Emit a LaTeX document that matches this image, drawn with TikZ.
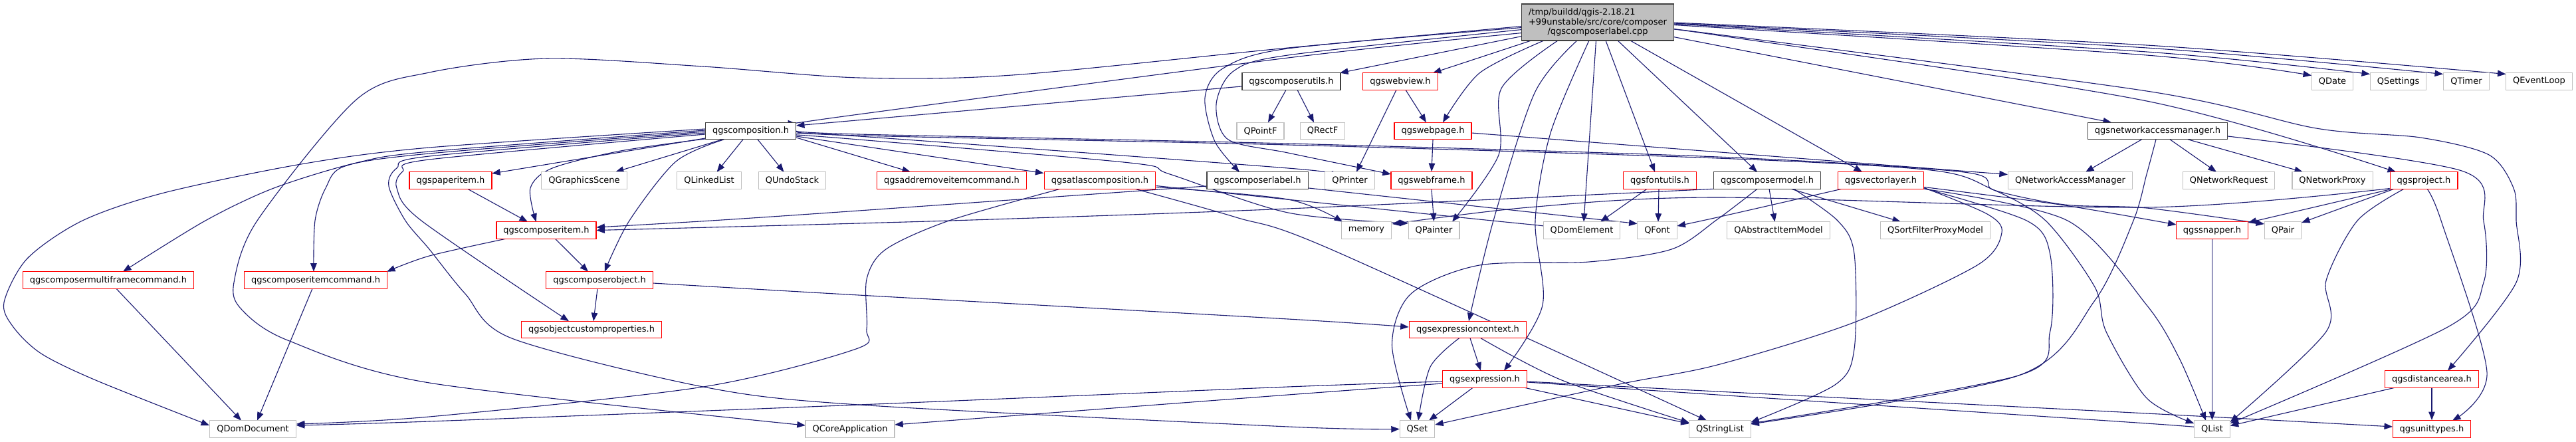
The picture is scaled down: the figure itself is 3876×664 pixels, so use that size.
\documentclass[tikz,border=0pt]{standalone}
\usepackage{fontspec}
\setmainfont{DejaVu Sans}
\usetikzlibrary{arrows.meta,calc,backgrounds}
\definecolor{edgecol}{RGB}{25,25,112}
\definecolor{nodegrey}{RGB}{191,191,191}
\definecolor{docborder}{RGB}{64,64,64}
\begin{document}
\begin{tikzpicture}[x=1pt,y=-1pt,
  conn/.style={draw=edgecol,line width=1.1pt,-{Triangle[length=12.5pt,width=9.5pt]}},
  nbase/.style={draw,fill=white,minimum height=25.6pt,inner xsep=10.5pt,inner ysep=0pt,line width=1.2pt,font=\fontsize{13}{15.6}\selectfont},
  docbox/.style={nbase,draw=docborder},
  redbox/.style={nbase,draw=red},
  extbox/.style={nbase,draw=nodegrey},
  rootbox/.style={nbase,draw=docborder,fill=nodegrey,minimum width=228pt,minimum height=55pt,align=center,font=\fontsize{13}{14.7}\selectfont}
]
\useasboundingbox (0,0) rectangle (3876,664);
% row 0
\node[rootbox] (R) at (2404,33.5) {\rlap{/tmp/buildd/qgis-2.18.21}\phantom{+99unstable/src/core/composer}\\+99unstable/src/core/composer\\/qgscomposerlabel.cpp};
% row 1
\node[docbox] (utils) at (1943,122.5) {qgscomposerutils.h};
\node[redbox] (webview) at (2107,122.5) {qgswebview.h};
\node[extbox] (QDate) at (3509.5,122.5) {QDate};
\node[extbox] (QSettings) at (3608.5,122.5) {QSettings};
\node[extbox] (QTimer) at (3711,122.5) {QTimer};
\node[extbox] (QEventLoop) at (3820.5,122.5) {QEventLoop};
% row 2
\node[docbox] (C) at (1129.5,197) {qgscomposition.h};
\node[extbox] (QPointF) at (1896.5,197) {QPointF};
\node[extbox] (QRectF) at (1990,197) {QRectF};
\node[redbox] (webpage) at (2156,197) {qgswebpage.h};
\node[docbox] (netmgr) at (3246.5,197) {qgsnetworkaccessmanager.h};
% row 3
\node[redbox] (paper) at (678,271.5) {qgspaperitem.h};
\node[extbox] (QGS) at (879,271.5) {QGraphicsScene};
\node[extbox] (QLL) at (1067,271.5) {QLinkedList};
\node[extbox] (QUS) at (1192,271.5) {QUndoStack};
\node[redbox] (addrem) at (1432,271.5) {qgsaddremoveitemcommand.h};
\node[redbox] (atlas) at (1655,271.5) {qgsatlascomposition.h};
\node[docbox] (label) at (1892,271.5) {qgscomposerlabel.h};
\node[extbox] (QPrinter) at (2031,271.5) {QPrinter};
\node[redbox] (webframe) at (2154,271.5) {qgswebframe.h};
\node[redbox] (fontutils) at (2497.5,271.5) {qgsfontutils.h};
\node[docbox] (cmodel) at (2659,271.5) {qgscomposermodel.h};
\node[redbox] (vlayer) at (2830,271.5) {qgsvectorlayer.h};
\node[extbox] (QNAM) at (3115,271.5) {QNetworkAccessManager};
\node[extbox] (QNR) at (3353.5,271.5) {QNetworkRequest};
\node[extbox] (QNP) at (3509.5,271.5) {QNetworkProxy};
\node[redbox] (project) at (3647,271.5) {qgsproject.h};
% row 4
\node[redbox] (citem) at (822,346.5) {qgscomposeritem.h};
\node[extbox] (memory) at (2056,346.5) {memory};
\node[extbox] (QPainter) at (2157.5,346.5) {QPainter};
\node[extbox] (QDomElement) at (2380,346.5) {QDomElement};
\node[extbox] (QFont) at (2493.5,346.5) {QFont};
\node[extbox] (QAIM) at (2676,346.5) {QAbstractItemModel};
\node[extbox] (QSFPM) at (2912,346.5) {QSortFilterProxyModel};
\node[redbox] (snapper) at (3328.5,346.5) {qgssnapper.h};
\node[extbox] (QPair) at (3435,346.5) {QPair};
% row 5
\node[redbox] (mfcmd) at (163,421.5) {qgscomposermultiframecommand.h};
\node[redbox] (icmd) at (475,421.5) {qgscomposeritemcommand.h};
\node[redbox] (cobj) at (902,421.5) {qgscomposerobject.h};
% row 6
\node[redbox] (ocp) at (890,496) {qgsobjectcustomproperties.h};
\node[redbox] (ectx) at (2208.5,496) {qgsexpressioncontext.h};
% row 7
\node[redbox] (expr) at (2234,570.5) {qgsexpression.h};
\node[redbox] (darea) at (3659,570.5) {qgsdistancearea.h};
% row 8
\node[extbox] (QDD) at (380.5,645.5) {QDomDocument};
\node[extbox] (QCA) at (1279,645.5) {QCoreApplication};
\node[extbox] (QSet) at (2132.5,645.5) {QSet};
\node[extbox] (QSL) at (2588,645.5) {QStringList};
\node[extbox] (QList) at (3328.5,645.5) {QList};
\node[redbox] (utypes) at (3659,645.5) {qgsunittypes.h};

\begin{scope}[on background layer]
% ---- root edges
\draw[conn] plot[smooth] coordinates {($(R)+(-114,16)$) (1938,87) (1292,172) ($(C)+(68.5,-11)$)};
\draw[conn] plot[smooth] coordinates {($(R)+(-114,6)$) (1938,72) (1523,113) (1292,117) (1058,100) (823,88) (646,109) (536,150) (387,332) (352,425) (363,465) (433,512) (646,576) ($(QCA)+(-67.2,-5.5)$)};
\draw[conn] ($(R)+(-114,21)$) -- ($(utils)+(73,-12.8)$);
\draw[conn] ($(R)+(-100,27.5)$) -- ($(webview)+(49,-12.8)$);
\draw[conn] plot[smooth] coordinates {($(R)+(-81,27.5)$) (2226,110) ($(webpage)+(15,-12.8)$)};
\draw[conn] plot[smooth] coordinates {($(R)+(-60,27.5)$) (2259,133) (2255,233) ($(QPainter)+(27.5,-12.8)$)};
\draw[conn] plot[smooth] coordinates {($(R)+(-31,27.5)$) (2309,140) (2247,332) ($(ectx)+(1.5,-12.8)$)};
\draw[conn] plot[smooth] coordinates {($(R)+(-13,27.5)$) (2333,200) (2310,332) (2321,459) ($(expr)+(29,-12.8)$)};
\draw[conn] ($(R)+(-2.5,27.5)$) -- ($(QDomElement)+(3,-12.8)$);
\draw[conn] ($(R)+(12,27.5)$) -- ($(fontutils)+(-7.5,-12.8)$);
\draw[conn] ($(R)+(30,27.5)$) -- ($(cmodel)+(-15,-12.8)$);
\draw[conn] ($(R)+(49,27.5)$) -- ($(vlayer)+(-28,-12.8)$);
\draw[conn] ($(R)+(114,22)$) -- ($(netmgr)+(-69.5,-12.8)$);
\draw[conn] plot[smooth] coordinates {($(R)+(114,12)$) (2584,53) (3230,152) ($(project)+(-42,-12.8)$)};
\draw[conn] plot[smooth] coordinates {($(R)+(114,10)$) (3230,137) (3485,193) (3642,207) (3745,233) (3782,283) (3786,332) (3786,425) ($(darea)+(24,-12.8)$)};
\draw[conn] plot[smooth] coordinates {($(R)+(114,4)$) (3230,83) ($(QDate)+(-31.5,-9)$)};
\draw[conn] plot[smooth] coordinates {($(R)+(114,2.5)$) (3230,78) ($(QSettings)+(-42.5,-11)$)};
\draw[conn] plot[smooth] coordinates {($(R)+(114,1.5)$) (3230,72) ($(QTimer)+(-35,-11)$)};
\draw[conn] plot[smooth] coordinates {($(R)+(114,0.5)$) (3230,68) ($(QEventLoop)+(-50,-11)$)};
\draw[conn] plot[smooth] coordinates {($(R)+(-114,11)$) (1938,83) (1856,107) (1830,157) (1848,210) (1938,230) ($(webframe)+(-61.2,-9.5)$)};
\draw[conn] plot[smooth] coordinates {($(R)+(-114,8)$) (1938,73) (1840,103) (1813,147) (1828,213) ($(label)+(-27,-12.8)$)};
% ---- utils, web
\draw[conn] ($(utils)+(-75,7.5)$) -- ($(C)+(68.5,-8)$);
\draw[conn] ($(utils)+(-8,12.8)$) -- ($(QPointF)+(11.5,-12.8)$);
\draw[conn] ($(utils)+(9,12.8)$) -- ($(QRectF)+(-13,-12.8)$);
\draw[conn] ($(webview)+(8,12.8)$) -- ($(webpage)+(-10,-12.8)$);
\draw[conn] ($(webview)+(-6,12.8)$) -- ($(QPrinter)+(10,-12.8)$);
\draw[conn] (webpage.south) -- (webframe.north);
\draw[conn] ($(webpage)+(58,3)$) -- ($(QNAM)+(-94.2,-9)$);
\draw[conn] (webframe.south) -- (QPainter.north);
\draw[conn] ($(fontutils)+(-19.5,12.8)$) -- ($(QDomElement)+(28,-12.8)$);
\draw[conn] ($(fontutils)+(-1.5,12.8)$) -- ($(QFont)+(1.5,-12.8)$);
% ---- label, model, vectorlayer
\draw[conn] plot[smooth] coordinates {($(label)+(-77,8.5)$) (1292,317) (1070,332) ($(citem)+(75.4,-4.5)$)};
\draw[conn] ($(label)+(77,11.5)$) -- ($(QFont)+(-29.9,-10)$);
\draw[conn] plot[smooth] coordinates {($(cmodel)+(-81,12.8)$) (1938,314) (1430,332) ($(citem)+(75.4,0)$)};
\draw[conn] plot[smooth] coordinates {($(cmodel)+(-15,12.8)$) (2584,330) (2515,375) (2391,394) (2226,399) (2123,442) (2094.5,519) ($(QSet)+(-9.5,-12.8)$)};
\draw[conn] ($(cmodel)+(3,12.8)$) -- ($(QAIM)+(-5.5,-12.8)$);
\draw[conn] ($(cmodel)+(36,12.8)$) -- ($(QSFPM)+(-52,-12.8)$);
\draw[conn] plot[smooth] coordinates {($(cmodel)+(40,12.8)$) (2765,332) (2790,382) (2790,525) (2761,579) ($(QSL)+(46.3,-10)$)};
\draw[conn] plot[smooth] coordinates {($(vlayer)+(-59,12.8)$) (2584,327) ($(QFont)+(29.9,-6.5)$)};
\draw[conn] plot[smooth] coordinates {($(vlayer)+(65.3,11)$) (2990,322) (3012,350) (2975,399) (2790,485) (2584,549) (2432,579) ($(QSet)+(26.7,-6.5)$)};
\draw[conn] plot[smooth] coordinates {($(vlayer)+(65.3,12)$) (3049.5,332) (3084.6,382) (3084.6,499) (3037,565) ($(QSL)+(46.3,-8.5)$)};
\draw[conn] plot[smooth] coordinates {($(vlayer)+(65.3,12.8)$) (3111,332) (3230,459) (3279,539) ($(QList)+(-9.5,-12.8)$)};
\draw[conn] plot[smooth] coordinates {($(vlayer)+(65.3,10)$) (3100,308) ($(snapper)+(-54,-8.5)$)};
% ---- project, network
\draw[conn] plot[smooth] coordinates {($(project)+(-51.3,12)$) (3230,312) (2584,297) (2300,312) ($(memory)+(38.75,-9.5)$)};
\draw[conn] ($(project)+(-48,12.8)$) -- ($(snapper)+(54,-11.5)$);
\draw[conn] ($(project)+(-45,12.8)$) -- ($(QPair)+(28,-11.5)$);
\draw[conn] plot[smooth] coordinates {($(project)+(-30,12.8)$) (3547,332) (3500,422) (3500,499) ($(QList)+(27.2,-10.5)$)};
\draw[conn] plot[smooth] coordinates {($(project)+(5,12.8)$) (3673,332) (3742,560) ($(utypes)+(31,-12.8)$)};
\draw[conn] ($(netmgr)+(-24,12.8)$) -- ($(QNAM)+(23,-12.8)$);
\draw[conn] ($(netmgr)+(18.5,12.8)$) -- ($(QNR)+(-18.5,-12.8)$);
\draw[conn] ($(netmgr)+(45.5,12.8)$) -- ($(QNP)+(-44.5,-12.8)$);
\draw[conn] plot[smooth] coordinates {($(netmgr)+(105.5,8)$) (3704,257) (3737,333) (3737,425) (3683,492) ($(QList)+(27.2,-8.5)$)};
\draw[conn] plot[smooth] coordinates {($(netmgr)+(-2.5,12.8)$) (3230,262) (3210,332) (3152,452) (3037,565) ($(QSL)+(46.3,-7.5)$)};
\draw[conn] ($(darea)+(-56,12.8)$) -- ($(QList)+(27.2,-5)$);
\draw[conn] (darea.south) -- (utypes.north);
\draw[conn] (snapper.south) -- (QList.north);
% ---- expression
\draw[conn] ($(expr)+(-18,12.8)$) -- ($(QSet)+(17.5,-12.8)$);
\draw[conn] ($(expr)+(60,12.8)$) -- ($(QSL)+(-46.3,-8)$);
\draw[conn] plot[smooth] coordinates {($(expr)+(64,4.5)$) (2584,594) (3230,637) ($(QList)+(-27.2,-2.5)$)};
\draw[conn] plot[smooth] coordinates {($(expr)+(64,3.5)$) (2584,589) (3230,622) ($(utypes)+(-59,-3.5)$)};
\draw[conn] plot[smooth] coordinates {($(expr)+(-64,3.5)$) (1938,582) (1292,609) (646,634) ($(QDD)+(65.4,-5.5)$)};
\draw[conn] plot[smooth] coordinates {($(expr)+(-64,6.5)$) (1938,594) ($(QCA)+(67.2,-6.5)$)};
\draw[conn] ($(ectx)+(3.5,12.8)$) -- ($(expr)+(-6,-12.8)$);
\draw[conn] plot[smooth] coordinates {($(ectx)+(-13,12.8)$) (2152,552) ($(QSet)+(1.5,-12.8)$)};
\draw[conn] plot[smooth] coordinates {($(ectx)+(19.5,12.8)$) (2350,572) ($(QSL)+(-46.3,-9.5)$)};
% ---- composition
\draw[conn] ($(C)+(-68.5,11)$) -- ($(paper)+(62.2,-10.5)$);
\draw[conn] ($(C)+(-42.5,12.8)$) -- ($(QGS)+(47,-12.8)$);
\draw[conn] ($(C)+(-11.5,12.8)$) -- ($(QLL)+(11.6,-12.8)$);
\draw[conn] ($(C)+(10.5,12.8)$) -- ($(QUS)+(-12.5,-12.8)$);
\draw[conn] plot[smooth] coordinates {($(C)+(-68.5,12)$) (934,227) (831,253) (798,283) ($(citem)+(-15.3,-12.8)$)};
\draw[conn] plot[smooth] coordinates {($(C)+(-40,12.8)$) (1017,243) (947,332) ($(cobj)+(7.7,-12.8)$)};
\draw[conn] ($(C)+(68.5,10)$) -- ($(addrem)+(-62,-12.8)$);
\draw[conn] ($(C)+(68.5,8)$) -- ($(atlas)+(-84.6,-11)$);
\draw[conn] plot[smooth] coordinates {($(C)+(68.5,5)$) (1292,205) (1938,253) ($(QPrinter)+(-37.3,-9.5)$)};
\draw[conn] plot[smooth] coordinates {($(C)+(68.5,6)$) (1292,210) (1700,245) (1760,262) (1938,320) ($(QPainter)+(-38.7,-10.5)$)};
\draw[conn] plot[smooth] coordinates {($(C)+(68.5,1)$) (1292,204) (1938,218) (2584,238) (2905,256) (2996,284) (3078,332) (3152,432) (3169,499) (3230,599) ($(QList)+(-27.2,-8.5)$)};
\draw[conn] plot[smooth] coordinates {($(C)+(68.5,0)$) (1292,202) (1938,216) (2584,236) (2955,259) (3000,286) (3107,308) (3230,313) ($(QPair)+(-28,-9.5)$)};
\draw[conn] plot[smooth] coordinates {($(C)+(-68.5,-3)$) (646,222) (453,247) (247,290) (124,332) (41,389) (6,455) (20,492) (62,532) (144,572) ($(QDD)+(-65.4,-5.5)$)};
\draw[conn] plot[smooth] coordinates {($(C)+(-68.5,-1)$) (646,228) (536,245) (412,283) (309,332) ($(mfcmd)+(22,-12.8)$)};
\draw[conn] plot[smooth] coordinates {($(C)+(-68.5,1)$) (646,231) (519,250) (490,283) (474,332) ($(icmd)+(-3,-12.8)$)};
\draw[conn] plot[smooth] coordinates {($(C)+(-68.5,3)$) (646,235) (597,253) (585,280) (610,332) (646,375) (700,442) (770,509) (1058,582) (1292,609) (1938,642) ($(QSet)+(-26.7,0)$)};
\draw[conn] plot[smooth] coordinates {($(C)+(-68.5,5)$) (646,240) (606,258) (597,283) (634,332) ($(ocp)+(-34,-12.8)$)};
% ---- composer item etc
\draw[conn] plot[smooth] coordinates {($(citem)+(-61,12.8)$) (646,385) ($(icmd)+(107,-12.8)$)};
\draw[conn] ($(citem)+(13.5,12.8)$) -- ($(cobj)+(-17,-12.8)$);
\draw[conn] ($(paper)+(25.7,12.8)$) -- ($(citem)+(-28,-12.8)$);
\draw[conn] ($(cobj)+(-3,12.8)$) -- ($(ocp)+(3,-12.8)$);
\draw[conn] plot[smooth] coordinates {($(cobj)+(80.6,4.5)$) (1292,444) (1938,480) ($(ectx)+(-88.8,-4)$)};
\draw[conn] ($(icmd)+(-5,12.8)$) -- ($(QDD)+(6.5,-12.8)$);
\draw[conn] ($(mfcmd)+(12,12.8)$) -- ($(QDD)+(-17.5,-12.8)$);
% ---- atlas
\draw[conn] plot[smooth] coordinates {($(atlas)+(-60,12.8)$) (1428,332) (1333,375) (1304,420) (1304,495) (1288,525) (1058,582) (646,627) ($(QDD)+(65.4,-7.5)$)};
\draw[conn] plot[smooth] coordinates {($(atlas)+(53,12.8)$) (1860,327) (2000,374) ($(QSL)+(-20,-12.8)$)};
\draw[conn] plot[smooth] coordinates {($(atlas)+(84.6,8)$) (2245,332) ($(QDomElement)+(-58.7,-7.5)$)};
\draw[conn] plot[smooth] coordinates {($(atlas)+(84.6,10)$) (1938,300) ($(memory)+(-36,-12.8)$)};
\end{scope}
\end{tikzpicture}
\end{document}
